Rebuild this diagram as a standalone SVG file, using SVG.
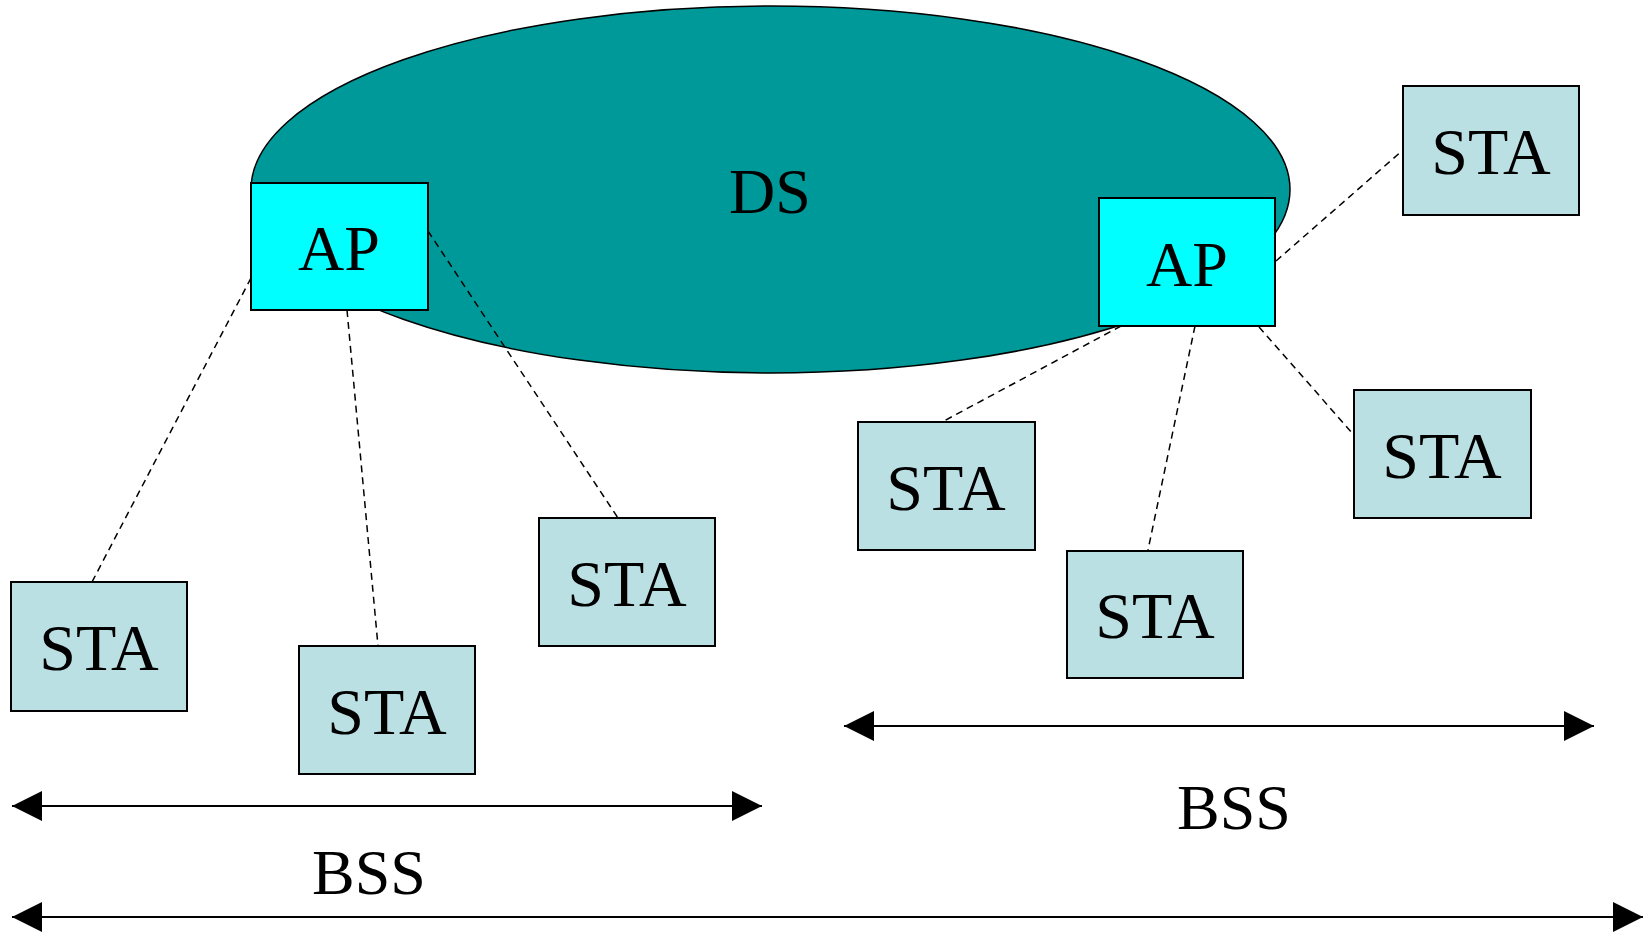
<svg xmlns="http://www.w3.org/2000/svg" width="1645" height="935" viewBox="0 0 1645 935" font-family="Liberation Serif, Times New Roman, Times, serif">
  <style>
    .ds { fill: #009999; stroke: #000; stroke-width: 1.5; }
    .ap rect { fill: #00FFFF; stroke: #000; stroke-width: 2; }
    .sta rect { fill: #BBE0E3; stroke: #000; stroke-width: 2; }
    text { font-family: 'Liberation Serif', 'Times New Roman', Times, serif; font-size: 64px; fill: #000; text-anchor: middle; }
    .sta text { font-size: 66px; }
    .link { stroke: #000; stroke-width: 1.5; stroke-dasharray: 7 5; fill: none; }
    .span { stroke: #000; stroke-width: 2; fill: none; marker-start: url(#head); marker-end: url(#head); }
  </style>
  <defs>
    <marker id="head" viewBox="0 0 30 30" refX="30" refY="15" markerWidth="30" markerHeight="30" markerUnits="userSpaceOnUse" orient="auto-start-reverse">
      <path d="M0,0 L30,15 L0,30 z" fill="#000"/>
    </marker>
  </defs>

  <!-- distribution system -->
  <g id="ds">
    <ellipse class="ds" cx="770.5" cy="189.5" rx="519.5" ry="183.5"/>
    <text x="770" y="213">DS</text>
  </g>

  <!-- dashed associations between access points and stations -->
  <g id="connectors">
    <line class="link" x1="251" y1="278" x2="92" y2="582"/>
    <line class="link" x1="347" y1="310" x2="378" y2="646"/>
    <line class="link" x1="428" y1="231" x2="618" y2="518"/>
    <line class="link" x1="1121" y1="326" x2="942" y2="422"/>
    <line class="link" x1="1195" y1="326" x2="1148" y2="550"/>
    <line class="link" x1="1259" y1="327" x2="1353" y2="434"/>
    <line class="link" x1="1276" y1="261" x2="1403" y2="150"/>
    <!-- extent arrows -->
    <line class="span" x1="12" y1="806" x2="762" y2="806"/>
    <line class="span" x1="844" y1="726" x2="1594" y2="726"/>
    <line class="span" x1="12" y1="917" x2="1643" y2="917"/>
  </g>

  <g id="ap1" class="ap">
    <rect x="251" y="183" width="177" height="127"/>
    <text x="339" y="270">AP</text>
  </g>
  <g id="ap2" class="ap">
    <rect x="1099" y="198" width="176" height="128"/>
    <text x="1187" y="286">AP</text>
  </g>

  <g id="sta1" class="sta">
    <rect x="11" y="582" width="176" height="129"/>
    <text x="99" y="670">STA</text>
  </g>
  <g id="sta2" class="sta">
    <rect x="299" y="646" width="176" height="128"/>
    <text x="387" y="734">STA</text>
  </g>
  <g id="sta3" class="sta">
    <rect x="539" y="518" width="176" height="128"/>
    <text x="627" y="606">STA</text>
  </g>
  <g id="sta4" class="sta">
    <rect x="858" y="422" width="177" height="128"/>
    <text x="946" y="510">STA</text>
  </g>
  <g id="sta5" class="sta">
    <rect x="1067" y="551" width="176" height="127"/>
    <text x="1155" y="638">STA</text>
  </g>
  <g id="sta6" class="sta">
    <rect x="1354" y="390" width="177" height="128"/>
    <text x="1442" y="478">STA</text>
  </g>
  <g id="sta7" class="sta">
    <rect x="1403" y="86" width="176" height="129"/>
    <text x="1491" y="174">STA</text>
  </g>

  <g id="labels">
    <text x="369" y="894">BSS</text>
    <text x="1234" y="829">BSS</text>
  </g>
</svg>
